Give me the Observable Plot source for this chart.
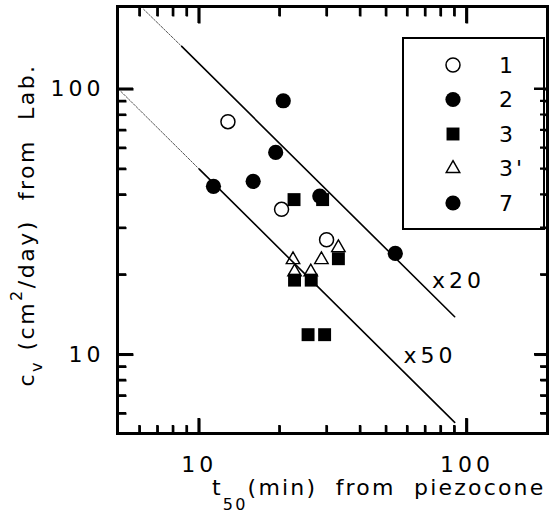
<!DOCTYPE html>
<html><head><meta charset="utf-8">
<script src="https://cdn.jsdelivr.net/npm/d3@7"></script>
<script src="https://cdn.jsdelivr.net/npm/@observablehq/plot@0.6"></script>
<style>
html,body{margin:0;padding:0;background:#fff;}
</style></head><body><div id="chart"></div>
<script>
// ---- data ----
const seriesNames = ["1", "2", "3", "3'", "7"];
const t1 = [12.8, 20.3, 29.9];
const cv1 = [75.5, 35.3, 27.1];
const t2 = [20.6, 19.3, 15.9, 11.3, 28.2];
const cv2 = [90.5, 57.8, 45.0, 43.1, 39.6];
const t3 = [22.6, 28.9, 33.1, 22.7, 26.2, 25.5, 29.4];
const cv3 = [38.4, 38.4, 23.0, 19.1, 19.1, 11.9, 11.9];
const t3p = [22.4, 28.6, 33.1, 22.7, 26.1];
const cv3p = [22.8, 22.8, 25.3, 20.5, 20.5];
const t7 = [54.0];
const cv7 = [24.1];

// guide lines (cv = k / t50): faint start, solid remainder
const guideNames = ["x20", "x50"];
const guide20T = [6.2, 8.6, 90];
const guide20Cv = [200, 145, 13.9];
const guide50T = [5.0, 10, 90];
const guide50Cv = [100, 50, 5.56];
const guideLabelT = [74, 58];
const guideLabelCv = [19.0, 9.9];

const xTickLabels = [10, 100];
const yTickLabels = [10, 100];
const majorTicks = [10, 100];
const minorTicks = [6, 7, 8, 9, 20, 30, 40, 50, 60, 70, 80, 90];
const xDomain = [4.95, 200];
const yDomain = [5.05, 205];

// ---- layout ----
const W = 550, H = 514, mL = 117, mR = 3, mT = 6, mB = 81;
const pw = W - mL - mR, ph = H - mT - mB;
const FONT = "DejaVu Sans, sans-serif";
const FS = 22;

const pts = (t, cv) => t.map((d, i) => ({t: d, cv: cv[i]}));
const seg = (t, cv, a, b) => t.slice(a, b).map((d, i) => ({t: d, cv: cv[a + i]}));

// inward tick of a given pixel length, expressed along the log scale
const decX = pw / Math.log10(xDomain[1] / xDomain[0]);
const decY = ph / Math.log10(yDomain[1] / yDomain[0]);
const inX = (px) => Math.pow(10, px / decX);
const inY = (px) => Math.pow(10, px / decY);
const tk = {stroke: "black", strokeLinecap: "butt", curve: "linear"};
const ticksBottom = (v, len, sw) => Plot.link(v, {...tk, x1: d => d, x2: d => d, y1: yDomain[0], y2: yDomain[0] * inY(len), strokeWidth: sw});
const ticksTop = (v, len, sw) => Plot.link(v, {...tk, x1: d => d, x2: d => d, y1: yDomain[1], y2: yDomain[1] / inY(len), strokeWidth: sw});
const ticksLeft = (v, len, sw) => Plot.link(v, {...tk, y1: d => d, y2: d => d, x1: xDomain[0], x2: xDomain[0] * inX(len), strokeWidth: sw});
const ticksRight = (v, len, sw) => Plot.link(v, {...tk, y1: d => d, y2: d => d, x1: xDomain[1], x2: xDomain[1] / inX(len), strokeWidth: sw});

const chart = Plot.plot({
  width: W, height: H,
  marginLeft: mL, marginRight: mR, marginTop: mT, marginBottom: mB,
  x: {type: "log", domain: xDomain, axis: null},
  y: {type: "log", domain: yDomain, axis: null},
  style: {fontFamily: FONT, fontSize: FS + "px", color: "black", background: "white"},
  marks: [
    // inward ticks on all four sides
    ticksBottom(majorTicks, 15, 2.6), ticksBottom(minorTicks, 8, 2.2),
    ticksTop(majorTicks, 17, 2.6), ticksTop(minorTicks, 10, 2.2),
    ticksLeft(majorTicks, 16, 2.6), ticksLeft(minorTicks, 9, 2.2),
    ticksRight(majorTicks, 13, 2.6), ticksRight(minorTicks, 7, 2.2),
    // tick labels
    Plot.axisX(xTickLabels, {anchor: "bottom", tickSize: 0, tickPadding: 23, label: null, fontSize: FS}),
    Plot.axisY(yTickLabels, {anchor: "left", tickSize: 0, tickPadding: 13, label: null, fontSize: FS}),
    // open triangles
    Plot.dot(pts(t3p, cv3p), {x: "t", y: "cv", symbol: "triangle", r: 5, fill: "white", stroke: "black", strokeWidth: 1.4}),
    // guide lines
    Plot.line(seg(guide20T, guide20Cv, 0, 2), {x: "t", y: "cv", stroke: "#555", strokeWidth: 1, strokeDasharray: "2,1.5"}),
    Plot.line(seg(guide20T, guide20Cv, 1, 3), {x: "t", y: "cv", stroke: "black", strokeWidth: 1.6}),
    Plot.line(seg(guide50T, guide50Cv, 0, 2), {x: "t", y: "cv", stroke: "#555", strokeWidth: 1, strokeDasharray: "2,1.5"}),
    Plot.line(seg(guide50T, guide50Cv, 1, 3), {x: "t", y: "cv", stroke: "black", strokeWidth: 1.6}),
    Plot.text(guideNames.map((n, i) => ({n, t: guideLabelT[i], cv: guideLabelCv[i]})),
      {x: "t", y: "cv", text: "n", textAnchor: "start", lineAnchor: "middle", fontSize: FS, fill: "black"}),
    // squares
    Plot.dot(pts(t3, cv3), {x: "t", y: "cv", symbol: "square", r: 7.3, fill: "black", stroke: "none"}),
    // filled circles
    Plot.dot(pts(t2, cv2), {x: "t", y: "cv", r: 7.6, fill: "black", stroke: "none"}),
    Plot.dot(pts(t7, cv7), {x: "t", y: "cv", r: 7.6, fill: "black", stroke: "none"}),
    // open circles
    Plot.dot(pts(t1, cv1), {x: "t", y: "cv", r: 7, fill: "white", stroke: "black", strokeWidth: 1.5}),
    Plot.frame({strokeWidth: 3})
  ]
});
document.getElementById("chart").appendChild(chart);

const svg = d3.select(chart);
svg.selectAll("text").attr("letter-spacing", "4");

// ---- legend ----
const lg = svg.append("g").attr("font-family", FONT).attr("font-size", FS).attr("text-anchor", "start");
lg.append("rect").attr("x", 403).attr("y", 38).attr("width", 141).attr("height", 191)
  .attr("fill", "white").attr("stroke", "black").attr("stroke-width", 2);
const legendStyles = [
  {sym: d3.symbolCircle, r: 7, fill: "white", stroke: "black"},
  {sym: d3.symbolCircle, r: 7.6, fill: "black", stroke: "none"},
  {sym: d3.symbolSquare, r: 7.3, fill: "black", stroke: "none"},
  {sym: d3.symbolTriangle, r: 5, fill: "white", stroke: "black"},
  {sym: d3.symbolCircle, r: 7.6, fill: "black", stroke: "none"}
];
seriesNames.forEach((name, i) => {
  const cy = 65 + i * 34.5;
  const s = legendStyles[i];
  lg.append("path").attr("d", d3.symbol(s.sym, Math.PI * s.r * s.r)())
    .attr("transform", `translate(453,${cy})`)
    .attr("fill", s.fill).attr("stroke", s.stroke).attr("stroke-width", 1.5);
  lg.append("text").attr("x", 499).attr("y", cy).attr("dy", "0.36em")
    .attr("letter-spacing", "3").text(name);
});

// ---- axis titles ----
const xt = svg.append("text").attr("font-family", FONT).attr("font-size", FS)
  .attr("text-anchor", "start")
  .attr("x", 212).attr("y", 495).attr("letter-spacing", "2.2");
xt.append("tspan").text("t");
xt.append("tspan").attr("dy", 15).attr("font-size", 16).text("50");
xt.append("tspan").attr("dy", -15).text("(min)  from  piezocone");

const yt = svg.append("text").attr("font-family", FONT).attr("font-size", FS)
  .attr("text-anchor", "middle")
  .attr("transform", "translate(34,225) rotate(-90)").attr("letter-spacing", "2.5");
yt.append("tspan").text("c");
yt.append("tspan").attr("dy", 8).attr("font-size", 16).text("v");
yt.append("tspan").attr("dy", -8).text(" (cm");
yt.append("tspan").attr("dy", -12).attr("font-size", 16).text("2");
yt.append("tspan").attr("dy", 12).text("/day)  from  Lab.");

// ---- backup tick paths via Plot's own scales (same positions as the link marks) ----
const xs = chart.scale("x"), ys = chart.scale("y");
const eL = mL, eR = W - mR, eT = mT, eB = H - mB;
const tg = svg.append("g").attr("stroke", "black").attr("fill", "none");
[[majorTicks, true], [minorTicks, false]].forEach(([vals, major]) => {
  vals.forEach(v => {
    const px = xs.apply(v), py = ys.apply(v);
    const sw = major ? 2.6 : 2.2;
    const d = `M${px},${eB}V${eB - (major ? 15 : 8)}M${px},${eT}V${eT + (major ? 17 : 10)}` +
      `M${eL},${py}H${eL + (major ? 16 : 9)}M${eR},${py}H${eR - (major ? 13 : 7)}`;
    tg.append("path").attr("d", d).attr("stroke-width", sw);
  });
});
</script></body></html>
